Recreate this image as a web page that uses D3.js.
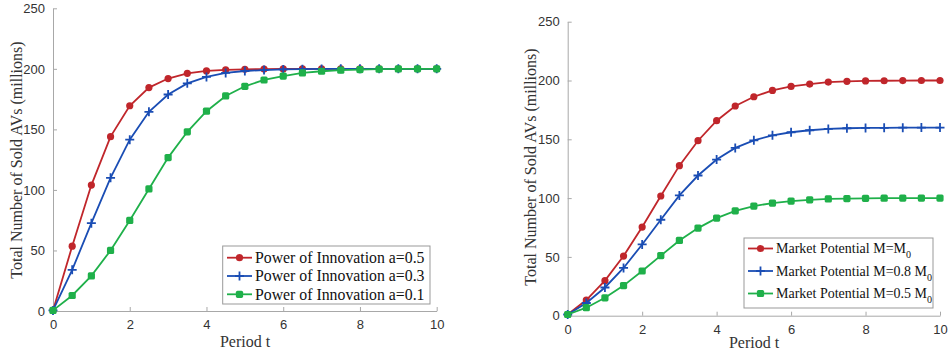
<!DOCTYPE html>
<html>
<head>
<meta charset="utf-8">
<script src="https://cdn.jsdelivr.net/npm/d3@7/dist/d3.min.js"></script>
<style>
  html, body { margin: 0; padding: 0; background: #fff; }
  svg { display: block; }
  .serif { font-family: "Liberation Serif", "DejaVu Serif", "Times New Roman", serif; }
  .sans { font-family: "Liberation Sans", Arial, "DejaVu Sans", sans-serif; }
</style>
</head>
<body>
<svg id="chart" width="948" height="356"></svg>
<script>
// Period t (0 to 10 in half steps)
const periods = [0, 0.5, 1, 1.5, 2, 2.5, 3, 3.5, 4, 4.5, 5, 5.5, 6, 6.5, 7, 7.5, 8, 8.5, 9, 9.5, 10];

// Left panel: cumulative sales for three values of the innovation coefficient
const innovA05 = [0.5, 53.5, 104, 144, 169.5, 184.5, 192, 196.3, 198.3, 199.2, 199.6, 199.8, 199.9, 200, 200, 200, 200, 200, 200, 200, 200];
const innovA03 = [0.5, 34, 72.5, 110, 141.5, 164.5, 178.8, 188, 193.3, 196.6, 198.2, 199, 199.5, 199.7, 199.9, 200, 200, 200, 200, 200, 200];
const innovA01 = [0.5, 12.8, 29, 50, 74.8, 100.8, 126.7, 148, 165, 177.6, 185.6, 190.8, 194, 196.6, 198, 198.9, 199.4, 199.7, 199.9, 200, 200];

// Right panel: cumulative sales for three market potentials
const marketM0 = [1, 13.3, 29.8, 50.7, 75.4, 101.8, 127.6, 148.8, 165.8, 178.3, 186.2, 191.6, 195, 197, 198.7, 199.3, 199.6, 199.8, 199.9, 200, 200];
const market08 = [1, 10.8, 24, 40.6, 60.6, 81.6, 102.3, 119.2, 132.8, 142.7, 149.1, 153.4, 156, 157.7, 158.8, 159.4, 159.7, 159.8, 159.9, 160, 160];
const market05 = [1, 6.8, 15.2, 25.6, 38, 51.1, 64, 74.5, 83, 89.2, 93.2, 95.8, 97.5, 98.5, 99.3, 99.6, 99.8, 99.9, 100, 100, 100];

const xTicks = [0, 2, 4, 6, 8, 10];
const yTicks = [0, 50, 100, 150, 200, 250];

const legendLeft = [
  { main: "Power of Innovation ", sub: null, tail: "a=0.5" },
  { main: "Power of Innovation ", sub: null, tail: "a=0.3" },
  { main: "Power of Innovation ", sub: null, tail: "a=0.1" }
];
const legendRight = [
  { main: "Market Potential M=M", sub: "0", tail: "" },
  { main: "Market Potential M=0.8 M", sub: "0", tail: "" },
  { main: "Market Potential M=0.5 M", sub: "0", tail: "" }
];

const COL_RED = "#c0262b";
const COL_BLUE = "#1a4db4";
const COL_GREEN = "#1fb04a";

const svg = d3.select("#chart");

function drawMarker(g, kind, x, y, color) {
  if (kind === "circle") {
    g.append("circle").attr("cx", x).attr("cy", y).attr("r", 3.6).attr("fill", color);
  } else if (kind === "plus") {
    g.append("path")
      .attr("d", `M${x - 4.5},${y}H${x + 4.5}M${x},${y - 4.5}V${y + 4.5}`)
      .attr("stroke", color).attr("stroke-width", 1.8).attr("fill", "none");
  } else {
    g.append("rect").attr("x", x - 3.6).attr("y", y - 3.6).attr("width", 7.2).attr("height", 7.2)
      .attr("rx", 1.6).attr("fill", color);
  }
}

function panel(opt) {
  const g = svg.append("g");
  const x = d3.scaleLinear().domain([0, 10]).range([opt.left, opt.right]);
  const y = d3.scaleLinear().domain([0, 250]).range([opt.bottom, opt.top]);

  // axes: inward ticks, grey spine, dark labels
  const xAxis = d3.axisBottom(x).tickValues(xTicks).tickSizeInner(-4).tickSizeOuter(0).tickPadding(9);
  const yAxis = d3.axisLeft(y).tickValues(yTicks).tickSizeInner(-4).tickSizeOuter(0).tickPadding(8);

  const gx = g.append("g").attr("transform", `translate(0,${opt.bottom})`).call(xAxis);
  const gy = g.append("g").attr("transform", `translate(${opt.left},0)`).call(yAxis);
  [gx, gy].forEach(a => {
    a.attr("font-family", null).attr("font-size", null);
    a.select(".domain").attr("stroke", "#a8a8a8").attr("stroke-width", 1);
    a.selectAll(".tick line").attr("stroke", "#a8a8a8");
    a.selectAll(".tick text").attr("class", "sans").attr("fill", "#333").style("font-size", "13px");
  });

  // axis titles
  g.append("text").attr("class", "serif")
    .attr("x", opt.xTitleX).attr("y", opt.xTitleY)
    .attr("text-anchor", "middle").style("font-size", "16px").attr("fill", "#333").text("Period t");
  g.append("text").attr("class", "serif")
    .attr("transform", `translate(${opt.yTitleX},${opt.yTitleY}) rotate(-90)`)
    .attr("text-anchor", "middle").style("font-size", "16px").attr("fill", "#333")
    .text("Total Number of Sold AVs (millions)");

  const line = d3.line().x((d, i) => x(periods[i])).y(d => y(d));

  opt.series.forEach(s => {
    g.append("path").datum(s.values).attr("d", line)
      .attr("fill", "none").attr("stroke", s.color).attr("stroke-width", 1.8);
    const mg = g.append("g");
    s.values.forEach((v, i) => drawMarker(mg, s.marker, x(periods[i]), y(v), s.color));
  });

  // legend
  const L = opt.legend;
  const lg = g.append("g");
  lg.append("rect").attr("x", L.x0).attr("y", L.y0).attr("width", L.x1 - L.x0).attr("height", L.y1 - L.y0)
    .attr("fill", "#fff").attr("stroke", "#999").attr("stroke-width", 1);
  opt.series.forEach((s, i) => {
    const ry = L.firstRow + i * L.rowGap;
    lg.append("line").attr("x1", L.lineX0).attr("x2", L.lineX1).attr("y1", ry).attr("y2", ry)
      .attr("stroke", s.color).attr("stroke-width", 1.8);
    drawMarker(lg, s.marker, (L.lineX0 + L.lineX1) / 2, ry, s.color);
    const t = lg.append("text").attr("class", "serif").attr("x", L.textX).attr("y", ry + L.fontSize * 0.33)
      .style("font-size", L.fontSize + "px").attr("fill", "#111");
    const item = L.items[i];
    t.append("tspan").text(item.main);
    if (item.sub) {
      t.append("tspan").style("font-size", (L.fontSize * 0.72) + "px").attr("dy", 5).text(item.sub);
    }
    if (item.tail) {
      t.append("tspan").text(item.tail);
    }
  });
}

panel({
  left: 53, right: 436.7, top: 8.3, bottom: 311,
  xTitleX: 245, xTitleY: 347, yTitleX: 22, yTitleY: 160,
  series: [
    { values: innovA05, color: COL_RED, marker: "circle" },
    { values: innovA03, color: COL_BLUE, marker: "plus" },
    { values: innovA01, color: COL_GREEN, marker: "square" }
  ],
  legend: {
    x0: 222.7, x1: 430, y0: 246, y1: 304, firstRow: 257.7, rowGap: 18.3,
    lineX0: 227, lineX1: 252, textX: 255, fontSize: 15.8, items: legendLeft
  }
});

panel({
  left: 567.7, right: 940, top: 21.7, bottom: 315.7,
  xTitleX: 754, xTitleY: 348, yTitleX: 536, yTitleY: 167,
  series: [
    { values: marketM0, color: COL_RED, marker: "circle" },
    { values: market08, color: COL_BLUE, marker: "plus" },
    { values: market05, color: COL_GREEN, marker: "square" }
  ],
  legend: {
    x0: 744, x1: 933, y0: 238, y1: 308, firstRow: 248.5, rowGap: 22.5,
    lineX0: 748, lineX1: 773, textX: 776, fontSize: 14, items: legendRight
  }
});
</script>
</body>
</html>
